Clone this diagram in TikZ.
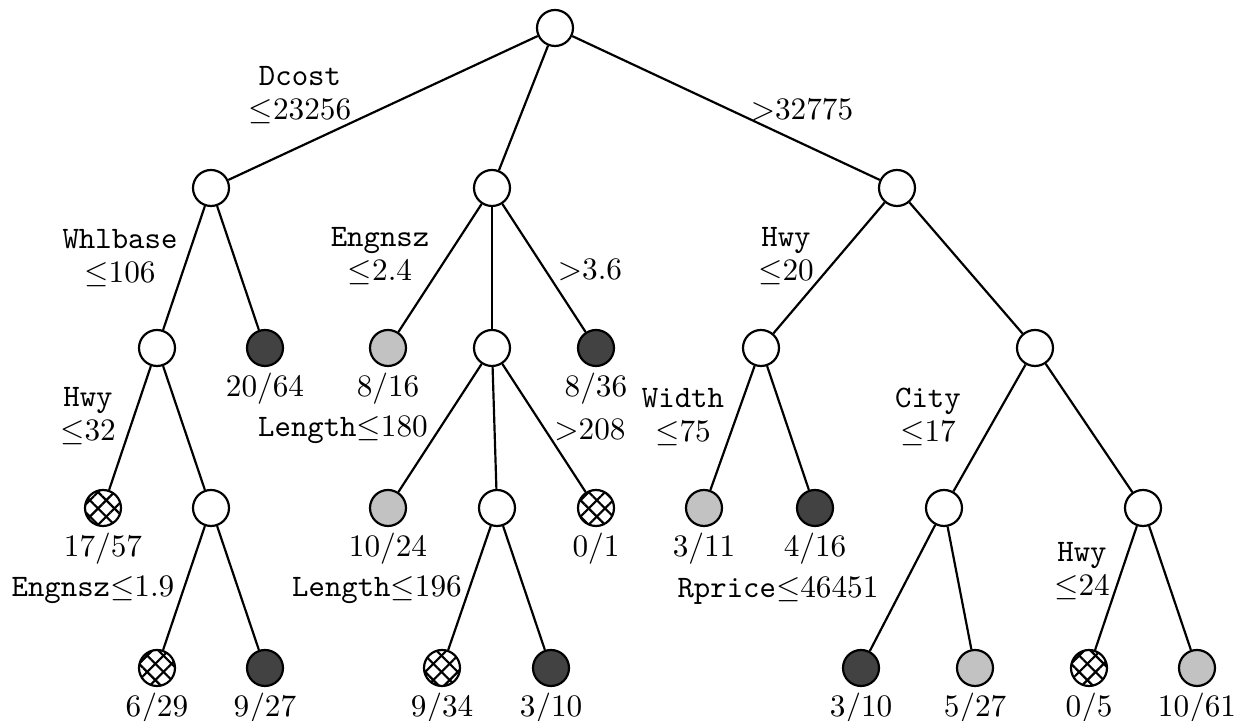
\documentclass[tikz,border=0pt]{standalone}
\usetikzlibrary{patterns.meta}
\definecolor{darkleaf}{gray}{0.26}
\definecolor{lightleaf}{gray}{0.76}
\tikzset{
  tn/.style={circle,draw,line width=0.7pt,minimum size=36*0.32pt,inner sep=0pt},
  inner/.style={tn,fill=white},
  dark/.style={tn,fill=darkleaf},
  light/.style={tn,fill=lightleaf},
  hatch/.style={tn,fill=white,
    postaction={pattern={Lines[angle=45,distance=3.7pt,line width=0.7pt]}},
    postaction={pattern={Lines[angle=-45,distance=3.7pt,line width=0.7pt]}}},
  edge/.style={line width=0.7pt},
  lbl/.style={inner sep=0pt,align=center,font=\normalsize}
}
\begin{document}
\begin{tikzpicture}[x=0.32pt,y=-0.32pt]
\useasboundingbox (0,0) rectangle (1241,721);
% splits and leaves
\node[inner] (r) at (555,28) {};
\node[inner] (a) at (211,188) {};
\node[inner] (b) at (492,188) {};
\node[inner] (c) at (897,188) {};
\node[inner] (a1) at (157,348) {};
\node[dark]  (a2) at (265,348) {};
\node[light] (b1) at (388,348) {};
\node[inner] (b2) at (492,348) {};
\node[dark]  (b3) at (596,348) {};
\node[inner] (c1) at (761,348) {};
\node[inner] (c2) at (1035,348) {};
\node[hatch] (a11) at (103,508) {};
\node[inner] (a12) at (211,508) {};
\node[light] (b21) at (388,508) {};
\node[inner] (b22) at (497,508) {};
\node[hatch] (b23) at (596,508) {};
\node[light] (c11) at (704,508) {};
\node[dark]  (c12) at (815,508) {};
\node[inner] (c21) at (944,508) {};
\node[inner] (c22) at (1143,508) {};
\node[hatch] (a121) at (157,668) {};
\node[dark]  (a122) at (265,668) {};
\node[hatch] (b221) at (442,668) {};
\node[dark]  (b222) at (551,668) {};
\node[dark]  (c211) at (861,668) {};
\node[light] (c212) at (975,668) {};
\node[hatch] (c221) at (1089,668) {};
\node[light] (c222) at (1197,668) {};
% branches
\foreach \p/\q in {r/a,r/b,r/c,a/a1,a/a2,b/b1,b/b2,b/b3,c/c1,c/c2,
  a1/a11,a1/a12,b2/b21,b2/b22,b2/b23,c1/c11,c1/c12,c2/c21,c2/c22,
  a12/a121,a12/a122,b22/b221,b22/b222,c21/c211,c21/c212,c22/c221,c22/c222}
  \draw[edge] (\p) -- (\q);
% split conditions
\node[lbl] (t1) at (300,95) {\texttt{Dcost}\\[-1pt]$\le$23256};
\node[lbl] (t2) at (802,110) {$>$32775};
\node[lbl] (t3) at (120,258) {\texttt{Whlbase}\\[-1pt]$\le$106};
\node[lbl] (t4) at (380,256) {\texttt{Engnsz}\\[-1pt]$\le$2.4};
\node[lbl] (t5) at (590,270) {$>$3.6};
\node[lbl] (t6) at (786,256) {\texttt{Hwy}\\[-1pt]$\le$20};
\node[lbl] (t7) at (88,416) {\texttt{Hwy}\\[-1pt]$\le$32};
\node[lbl] (t8) at (343,430) {\texttt{Length}$\le$180};
\node[lbl] (t9) at (590,430) {$>$208};
\node[lbl] (t10) at (683,417) {\texttt{Width}\\[-1pt]$\le$75};
\node[lbl] (t11) at (928,417) {\texttt{City}\\[-1pt]$\le$17};
\node[lbl] (t12) at (93,590) {\texttt{Engnsz}$\le$1.9};
\node[lbl] (t13) at (377,590) {\texttt{Length}$\le$196};
\node[lbl] (t14) at (778,590) {\texttt{Rprice}$\le$46451};
\node[lbl] (t15) at (1082,571) {\texttt{Hwy}\\[-1pt]$\le$24};
% leaf counts
\foreach \n/\t in {a2/20\slash64,b1/8\slash16,b3/8\slash36,a11/17\slash57,b21/10\slash24,
  b23/0\slash1,c11/3\slash11,c12/4\slash16,a121/6\slash29,a122/9\slash27,b221/9\slash34,
  b222/3\slash10,c211/3\slash10,c212/5\slash27,c221/0\slash5,c222/10\slash61}
  \node[lbl,below=1.8pt] at (\n.south) {$\t$};
\end{tikzpicture}
\end{document}
